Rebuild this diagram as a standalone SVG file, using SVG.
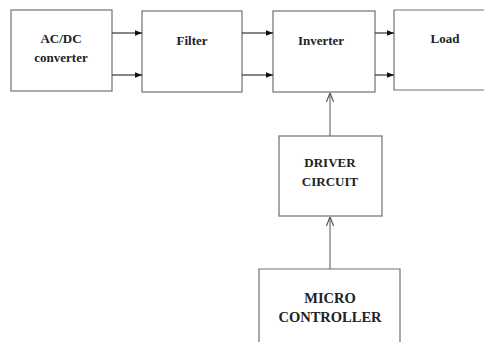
<svg xmlns="http://www.w3.org/2000/svg" width="484" height="342" viewBox="0 0 484 342">
<defs>
<style>
.box{fill:#fff;stroke:#707070;stroke-width:1.2}
.t{font-family:'Liberation Serif','DejaVu Serif',serif;font-weight:bold;fill:#222;text-anchor:middle}
.c{stroke:#333;stroke-width:1.2;fill:none}
.g{stroke:#707070;stroke-width:1.2;fill:none}
</style>
<marker id="fa" viewBox="0 0 10 10" refX="10" refY="5" markerWidth="7" markerHeight="7" orient="auto" markerUnits="userSpaceOnUse">
<path d="M0,1 L10,5 L0,9 z" fill="#111"/>
</marker>
<marker id="oa" viewBox="0 0 10 10" refX="10" refY="5" markerWidth="9" markerHeight="9" orient="auto" markerUnits="userSpaceOnUse">
<path d="M0,1 L10,5 L0,9" fill="none" stroke="#555" stroke-width="1.3"/>
</marker>
</defs>
<rect width="484" height="342" fill="#fff"/>
<g id="acdc"><rect class="box" x="11" y="10" width="101" height="81"/>
<text class="t" x="61" y="43" font-size="13">AC/DC</text>
<text class="t" x="61" y="62" font-size="13">converter</text></g>
<g id="filter"><rect class="box" x="142" y="11" width="100" height="81"/>
<text class="t" x="192" y="45" font-size="13">Filter</text></g>
<g id="inverter"><rect class="box" x="273" y="11" width="102" height="81"/>
<text class="t" x="321" y="45" font-size="13">Inverter</text></g>
<g id="load"><path class="box" d="M490,10 H394 V90 H490"/>
<text class="t" x="445" y="43" font-size="13">Load</text></g>
<g id="driver"><rect class="box" x="279" y="136" width="103" height="80"/>
<text class="t" x="330" y="167" font-size="13">DRIVER</text>
<text class="t" x="330" y="186" font-size="13">CIRCUIT</text></g>
<g id="micro"><path class="box" d="M259,345 V269 H400 V345"/>
<text class="t" x="330" y="303" font-size="14.5">MICRO</text>
<text class="t" x="330" y="322" font-size="14.5">CONTROLLER</text></g>
<g id="connectors">
<line class="c" x1="112" y1="33" x2="142" y2="33" marker-end="url(#fa)"/>
<line class="c" x1="112" y1="75" x2="142" y2="75" marker-end="url(#fa)"/>
<line class="c" x1="242" y1="33" x2="273" y2="33" marker-end="url(#fa)"/>
<line class="c" x1="242" y1="75" x2="273" y2="75" marker-end="url(#fa)"/>
<line class="c" x1="375" y1="33" x2="394" y2="33" marker-end="url(#fa)"/>
<line class="c" x1="375" y1="75" x2="394" y2="75" marker-end="url(#fa)"/>
<line class="g" x1="330" y1="136" x2="330" y2="93" marker-end="url(#oa)"/>
<line class="g" x1="330" y1="269" x2="330" y2="217" marker-end="url(#oa)"/>
</g>
</svg>
